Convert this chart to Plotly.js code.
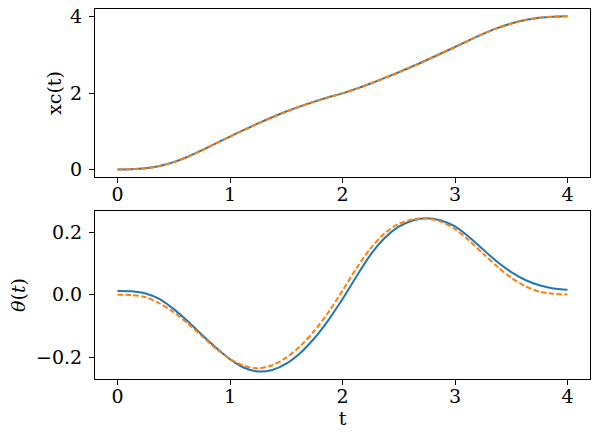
<!DOCTYPE html>
<html>
<head>
<meta charset="utf-8">
<script src="https://cdn.plot.ly/plotly-3.0.1.min.js"></script>
<style>html,body{margin:0;padding:0;background:#fff;}#chart{width:599px;height:440px;}</style>
</head>
<body>
<div id="chart"></div>
<script>
const t = [0, 0.125, 0.25, 0.375, 0.5, 0.625, 0.75, 0.875, 1.0, 1.125, 1.25, 1.375, 1.5, 1.625, 1.75, 1.875,
  2.0, 2.125, 2.25, 2.375, 2.5, 2.625, 2.75, 2.875, 3.0, 3.125, 3.25, 3.375, 3.5, 3.625, 3.75, 3.875, 4.0];
const xcSim = [0, 0.005, 0.03, 0.09, 0.19, 0.33, 0.50, 0.68, 0.86, 1.035, 1.205, 1.365, 1.515, 1.65, 1.775, 1.89,
  1.99, 2.115, 2.25, 2.395, 2.545, 2.70, 2.865, 3.035, 3.205, 3.38, 3.55, 3.70, 3.82, 3.91, 3.97, 4.0, 4.01];
const xcRef = [0, 0.005, 0.03, 0.09, 0.19, 0.33, 0.50, 0.68, 0.86, 1.035, 1.205, 1.365, 1.515, 1.65, 1.775, 1.89,
  1.99, 2.115, 2.25, 2.395, 2.545, 2.70, 2.865, 3.035, 3.205, 3.38, 3.55, 3.70, 3.82, 3.91, 3.97, 4.0, 4.01];
const thSim = [0.012, 0.011, 0.004, -0.014, -0.046, -0.085, -0.128, -0.169, -0.206, -0.233, -0.245, -0.240, -0.220, -0.186, -0.139, -0.081,
  -0.014, 0.059, 0.128, 0.181, 0.217, 0.237, 0.244, 0.237, 0.218, 0.184, 0.144, 0.105, 0.072, 0.047, 0.03, 0.02, 0.016];
const thRef = [0.0, -0.001, -0.008, -0.028, -0.056, -0.092, -0.132, -0.172, -0.205, -0.227, -0.235, -0.225, -0.201, -0.164, -0.115, -0.056,
  0.013, 0.085, 0.148, 0.196, 0.226, 0.240, 0.243, 0.233, 0.209, 0.173, 0.131, 0.090, 0.054, 0.027, 0.01, 0.003, 0.001];
const xTicks = [0, 1, 2, 3, 4];
const xcTicks = [0, 2, 4];
const thTicks = [-0.2, 0.0, 0.2];
const thTickText = ['\u22120.2', '0.0', '0.2'];

const blue = '#1f77b4', orange = '#ff7f0e';
const font = {family: "'DejaVu Serif', 'Liberation Serif', serif", size: 19, color: '#000'};
function tr(x, y, xa, ya, color, dash) {
  return {x: x, y: y, xaxis: xa, yaxis: ya, type: 'scatter', mode: 'lines',
    line: {color: color, width: 2, dash: dash, shape: 'spline', smoothing: 0.8}, hoverinfo: 'skip'};
}
const data = [
  tr(t, xcSim, 'x', 'y', blue, 'solid'),
  tr(t, xcRef, 'x', 'y', orange, '5.5px,2.4px'),
  tr(t, thSim, 'x2', 'y2', blue, 'solid'),
  tr(t, thRef, 'x2', 'y2', orange, '5.5px,2.4px')
];
const axBase = {showgrid: false, zeroline: false, showline: true, mirror: true, linecolor: '#000', linewidth: 1,
  ticks: 'outside', ticklen: 5, tickwidth: 1, tickcolor: '#000', tickfont: font};
const layout = {
  width: 599, height: 440,
  margin: {l: 95, r: 9, t: 9, b: 61},
  paper_bgcolor: '#fff', plot_bgcolor: '#fff',
  showlegend: false, font: font,
  xaxis: Object.assign({}, axBase, {domain: [0, 1], range: [-0.2, 4.2], tickvals: xTicks, anchor: 'y', ticklabelstandoff: -5}),
  yaxis: Object.assign({}, axBase, {domain: [0.5459, 1], range: [-0.2, 4.2], tickvals: xcTicks, anchor: 'x', ticklabelstandoff: 3,
    title: {text: 'xc(t)', font: font, standoff: 3}}),
  xaxis2: Object.assign({}, axBase, {domain: [0, 1], range: [-0.2, 4.2], tickvals: xTicks, anchor: 'y2', ticklabelstandoff: -5,
    title: {text: 't', font: font, standoff: 3}}),
  yaxis2: Object.assign({}, axBase, {domain: [0, 0.454], range: [-0.269, 0.267], tickvals: thTicks, ticktext: thTickText, anchor: 'x2', ticklabelstandoff: 3,
    title: {text: '<i>θ</i>(<i>t</i>)', font: font, standoff: 5}})
};
Plotly.newPlot('chart', data, layout, {staticPlot: true});
</script>
</body>
</html>
